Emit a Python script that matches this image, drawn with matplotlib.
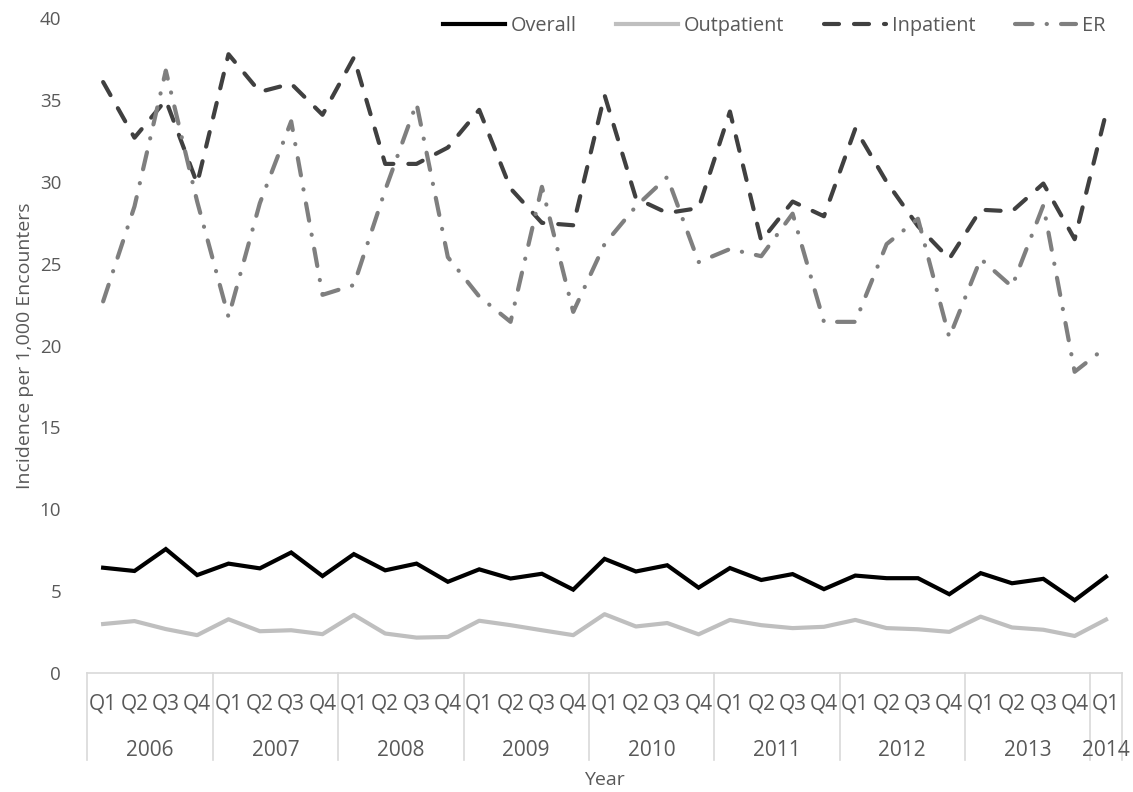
import matplotlib
matplotlib.use('Agg')
import matplotlib.pyplot as plt
import matplotlib.transforms as mtransforms

# quarters 2006 Q1 .. 2014 Q1
years = ['2006', '2007', '2008', '2009', '2010', '2011', '2012', '2013', '2014']
quarters = ['Q1', 'Q2', 'Q3', 'Q4'] * 8 + ['Q1']

overall = [6.43, 6.23, 7.57, 5.98, 6.68, 6.39, 7.36, 5.92, 7.26, 6.27, 6.68, 5.57,
           6.33, 5.77, 6.06, 5.09, 6.97, 6.20, 6.58, 5.21, 6.41, 5.68, 6.04, 5.12,
           5.95, 5.79, 5.79, 4.81, 6.10, 5.48, 5.75, 4.44, 5.88]
outpatient = [2.99, 3.17, 2.68, 2.31, 3.28, 2.55, 2.61, 2.37, 3.55, 2.41, 2.16, 2.20,
              3.19, 2.92, 2.61, 2.31, 3.59, 2.84, 3.05, 2.36, 3.24, 2.92, 2.74, 2.82,
              3.24, 2.74, 2.67, 2.51, 3.44, 2.78, 2.64, 2.26, 3.26]
inpatient = [36.1, 32.7, 35.0, 29.9, 37.8, 35.5, 36.0, 34.1, 37.6, 31.1, 31.1, 32.1,
             34.4, 29.6, 27.5, 27.35, 35.3, 29.0, 28.1, 28.4, 34.3, 26.4, 28.8, 27.9,
             33.25, 30.0, 27.3, 25.3, 28.3, 28.2, 29.9, 26.5, 34.2]
er = [22.7, 28.5, 36.8, 28.8, 21.75, 28.7, 33.7, 23.1, 23.7, 29.5, 34.8, 25.4,
      23.0, 21.45, 29.7, 22.06, 26.2, 28.5, 30.3, 25.1, 25.9, 25.46, 28.06, 21.45,
      21.45, 26.2, 27.75, 20.5, 25.3, 23.6, 28.57, 18.4, 19.9]

plt.rcParams['font.family'] = ['Open Sans', 'DejaVu Sans']
narrow = ['Liberation Sans Narrow', 'Open Sans', 'DejaVu Sans']
txt = '#595959'

fig = plt.figure(figsize=(11.33, 7.92), dpi=100)
ax = fig.add_axes([0.0772, 0.1503, 0.9128, 0.8267])

x = list(range(len(quarters)))
ax.plot(x, overall, color='#000000', lw=3.0, solid_joinstyle='miter', label='Overall')
ax.plot(x, outpatient, color='#bfbfbf', lw=3.0, label='Outpatient')
ax.plot(x, inpatient, color='#404040', lw=3.0, dashes=(3.6, 3.6),
        dash_capstyle='round', label='Inpatient')
ax.plot(x, er, color='#7f7f7f', lw=3.0, dashes=(4.2, 3.4, 0.05, 3.4),
        dash_capstyle='round', label='ER')

ax.set_xlim(-0.5, len(quarters) - 0.5)
ax.set_ylim(0, 40)
ax.set_yticks(range(0, 41, 5))
ax.tick_params(axis='y', length=0, labelsize=13.5, labelcolor=txt, pad=19)
ax.set_xticks(x)
ax.set_xticklabels(quarters, family=narrow, fontsize=15, color=txt)
ax.tick_params(axis='x', length=0, pad=15)

for s in ['left', 'top', 'right']:
    ax.spines[s].set_visible(False)
ax.spines['bottom'].set_color('#d9d9d9')
ax.spines['bottom'].set_linewidth(1.2)

# year group separators and labels
trans = mtransforms.blended_transform_factory(ax.transData, ax.transAxes)
bounds = [i * 4 - 0.5 for i in range(9)] + [len(quarters) - 0.5]
for b in bounds:
    ax.plot([b, b], [0, -0.133], transform=trans, color='#d9d9d9', lw=1.2,
            clip_on=False)
for i, yr in enumerate(years):
    lo = bounds[i]
    hi = bounds[i + 1]
    ax.text((lo + hi) / 2, -0.119, yr, transform=trans, ha='center', va='center',
            family=narrow, fontsize=15, color=txt)

ax.set_ylabel('Incidence per 1,000 Encounters', fontsize=14, color=txt, labelpad=4)
ax.text(0.5, -0.163, 'Year', transform=ax.transAxes, ha='center', va='center',
        fontsize=14, color=txt)

ax.legend(loc='upper right', bbox_to_anchor=(1.002, 1.03), ncol=4, frameon=False,
          fontsize=14.3, handlelength=3.1, handletextpad=0.3, columnspacing=2.0,
          labelcolor=txt)

fig.savefig('out.png', dpi=100)
